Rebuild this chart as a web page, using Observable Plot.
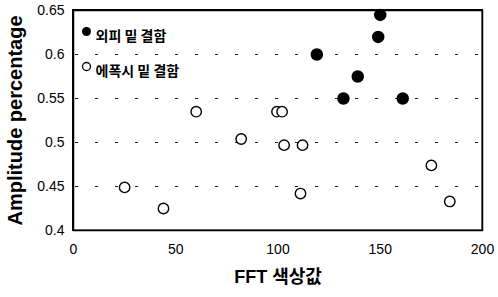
<!DOCTYPE html>
<html><head><meta charset="utf-8">
<script src="https://cdn.jsdelivr.net/npm/d3@7"></script>
<script src="https://cdn.jsdelivr.net/npm/@observablehq/plot@0.6"></script>
<style>
body{margin:0;background:#fff;}
svg{font-family:"Liberation Sans","Noto Sans CJK KR",Arial,sans-serif;}
</style>
</head><body><div id="chart"></div>
<script>
const seriesNames = ["외피 밑 결함", "에폭시 밑 결함"];
const outerX = [150, 149, 119, 139, 132, 161];
const outerY = [0.645, 0.62, 0.600, 0.575, 0.550, 0.550];
const epoxyX = [25, 44, 60, 82, 99.5, 102, 103, 112, 111, 175, 184];
const epoxyY = [0.449, 0.425, 0.535, 0.504, 0.535, 0.535, 0.497, 0.497, 0.442, 0.474, 0.433];
const xTicks = [0, 50, 100, 150, 200];
const yTicks = [0.4, 0.45, 0.5, 0.55, 0.6, 0.65];
const yTickLabels = ["0.4", "0.45", "0.5", "0.55", "0.6", "0.65"];
const gridTicks = [0.45, 0.5, 0.55, 0.6];
const xDomain = [0, 200];
const yDomain = [0.4, 0.65];
const xTitle = "FFT 색상값";
const yTitle = "Amplitude percentage";

const outer = outerX.map((x, i) => ({x, y: outerY[i]}));
const epoxy = epoxyX.map((x, i) => ({x, y: epoxyY[i]}));
const plotArea = [{x1: xDomain[0], x2: xDomain[1], y1: yDomain[0], y2: yDomain[1]}];

const chart = Plot.plot({
  width: 498, height: 297,
  marginLeft: 73, marginRight: 16, marginTop: 10, marginBottom: 67,
  style: {fontSize: "14px", color: "black"},
  x: {domain: xDomain, label: null},
  y: {domain: yDomain, label: null},
  marks: [
    Plot.rect(plotArea, {x1: "x1", x2: "x2", y1: "y1", y2: "y2", fill: "black", inset: -1}),
    Plot.rect(plotArea, {x1: "x1", x2: "x2", y1: "y1", y2: "y2", fill: "white", inset: 0.5}),
    Plot.ruleY(gridTicks, {stroke: "#222", strokeDasharray: "3,17", strokeWidth: 1, insetLeft: 2, insetRight: 2}),
    Plot.frame({stroke: "black", strokeWidth: 1.5}),
    Plot.axisX({ticks: xTicks, tickSize: 0, tickPadding: 14, fontSize: 14, label: null}),
    Plot.axisY({ticks: yTicks, tickSize: 0, tickPadding: 9, fontSize: 14, label: null,
      tickFormat: d => yTickLabels[yTicks.indexOf(d)]}),
    Plot.dot(outer, {x: "x", y: "y", r: 5.5, fill: "black", stroke: "black"}),
    Plot.dot(epoxy, {x: "x", y: "y", r: 5.2, fill: "white", stroke: "black", strokeWidth: 1.4}),
    // legend
    Plot.dot([seriesNames[0]], {frameAnchor: "top-left", dx: 13, dy: 21, r: 4.5, fill: "black"}),
    Plot.text([seriesNames[0]], {frameAnchor: "top-left", dx: 22, dy: 21, text: d => d, textAnchor: "start",
      fontSize: 14, fontWeight: "bold", fontFamily: "Noto Sans CJK KR", fill: "black"}),
    Plot.dot([seriesNames[1]], {frameAnchor: "top-left", dx: 13, dy: 56, r: 4, fill: "white", stroke: "black", strokeWidth: 1.3}),
    Plot.text([seriesNames[1]], {frameAnchor: "top-left", dx: 22, dy: 56, text: d => d, textAnchor: "start",
      fontSize: 14, fontWeight: "bold", fontFamily: "Noto Sans CJK KR", fill: "black"}),
    // axis titles
    Plot.text([xTitle], {frameAnchor: "bottom", dy: 52, text: d => d, fontSize: 18, fontWeight: "bold", fill: "black"}),
    Plot.text([yTitle], {frameAnchor: "left", dx: -58, rotate: -90, textAnchor: "middle", text: d => d, fontSize: 20, fontWeight: "bold", fill: "black"})
  ]
});
document.getElementById("chart").appendChild(chart);
</script>
</body></html>
